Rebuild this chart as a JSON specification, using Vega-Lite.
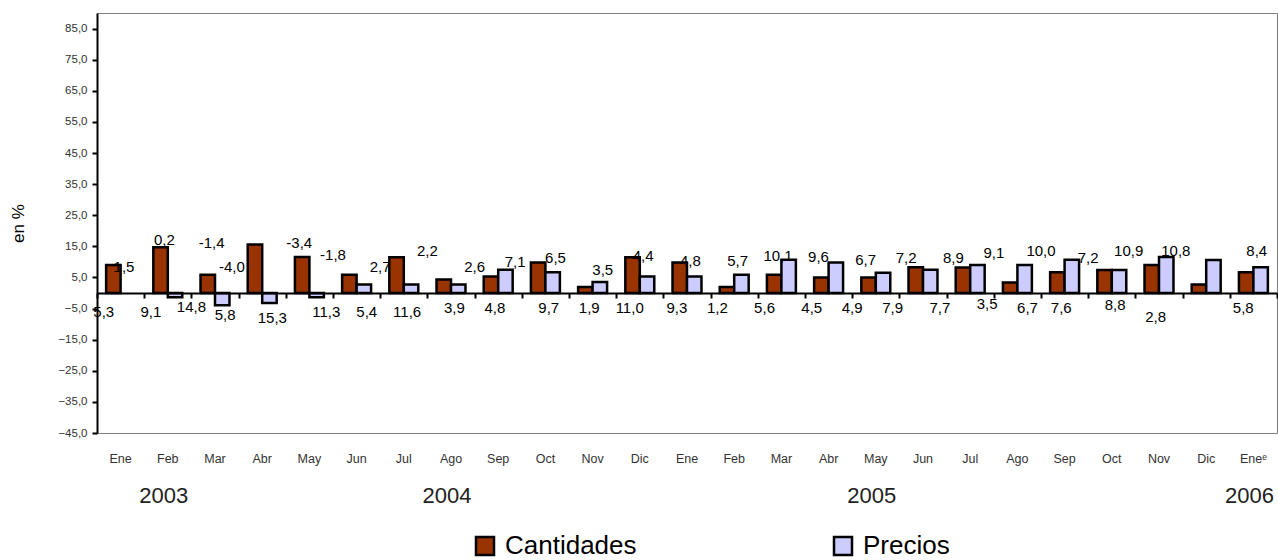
{
  "$schema": "https://vega.github.io/schema/vega-lite/v6.json",
  "autosize": {"type": "none"},
  "padding": {"left": 97, "top": 13, "right": 1, "bottom": 127},
  "width": 1180,
  "height": 420,
  "background": "white",
  "config": {
    "font": "Liberation Sans",
    "view": {"stroke": "#808080", "strokeWidth": 1},
    "axis": {"grid": false}
  },
  "datasets": {
    "barras": [
      {"m": 1, "s": "Cantidades", "v": 9.0},
      {"m": 2, "s": "Cantidades", "v": 14.7}, {"m": 2, "s": "Precios", "v": -1.4},
      {"m": 3, "s": "Cantidades", "v": 5.9}, {"m": 3, "s": "Precios", "v": -3.9},
      {"m": 4, "s": "Cantidades", "v": 15.6}, {"m": 4, "s": "Precios", "v": -3.2},
      {"m": 5, "s": "Cantidades", "v": 11.6}, {"m": 5, "s": "Precios", "v": -1.4},
      {"m": 6, "s": "Cantidades", "v": 5.9}, {"m": 6, "s": "Precios", "v": 2.7},
      {"m": 7, "s": "Cantidades", "v": 11.5}, {"m": 7, "s": "Precios", "v": 2.7},
      {"m": 8, "s": "Cantidades", "v": 4.3}, {"m": 8, "s": "Precios", "v": 2.7},
      {"m": 9, "s": "Cantidades", "v": 5.3}, {"m": 9, "s": "Precios", "v": 7.5},
      {"m": 10, "s": "Cantidades", "v": 9.8}, {"m": 10, "s": "Precios", "v": 6.7},
      {"m": 11, "s": "Cantidades", "v": 1.9}, {"m": 11, "s": "Precios", "v": 3.5},
      {"m": 12, "s": "Cantidades", "v": 11.5}, {"m": 12, "s": "Precios", "v": 5.3},
      {"m": 13, "s": "Cantidades", "v": 9.8}, {"m": 13, "s": "Precios", "v": 5.3},
      {"m": 14, "s": "Cantidades", "v": 1.9}, {"m": 14, "s": "Precios", "v": 5.9},
      {"m": 15, "s": "Cantidades", "v": 5.9}, {"m": 15, "s": "Precios", "v": 10.7},
      {"m": 16, "s": "Cantidades", "v": 5.0}, {"m": 16, "s": "Precios", "v": 9.8},
      {"m": 17, "s": "Cantidades", "v": 5.0}, {"m": 17, "s": "Precios", "v": 6.5},
      {"m": 18, "s": "Cantidades", "v": 8.3}, {"m": 18, "s": "Precios", "v": 7.5},
      {"m": 19, "s": "Cantidades", "v": 8.2}, {"m": 19, "s": "Precios", "v": 9.0},
      {"m": 20, "s": "Cantidades", "v": 3.4}, {"m": 20, "s": "Precios", "v": 9.0},
      {"m": 21, "s": "Cantidades", "v": 6.7}, {"m": 21, "s": "Precios", "v": 10.7},
      {"m": 22, "s": "Cantidades", "v": 7.4}, {"m": 22, "s": "Precios", "v": 7.4},
      {"m": 23, "s": "Cantidades", "v": 9.0}, {"m": 23, "s": "Precios", "v": 11.6},
      {"m": 24, "s": "Cantidades", "v": 2.7}, {"m": 24, "s": "Precios", "v": 10.6},
      {"m": 25, "s": "Cantidades", "v": 6.7}, {"m": 25, "s": "Precios", "v": 8.3}
    ],
    "arriba": [
      {"m": 1, "k": 4, "t": "1,5", "ly": 8.4},
      {"m": 2, "k": 3, "t": "0,2", "ly": 17.1},
      {"m": 3, "k": 3, "t": "-1,4", "ly": 16.1},
      {"m": 3, "k": 6, "t": "-4,0", "ly": 8.4},
      {"m": 5, "k": 2, "t": "-3,4", "ly": 16.1},
      {"m": 6, "k": 0, "t": "-1,8", "ly": 12.3},
      {"m": 6, "k": 7, "t": "2,7", "ly": 8.4},
      {"m": 8, "k": 0, "t": "2,2", "ly": 13.6},
      {"m": 8, "k": 7, "t": "2,6", "ly": 8.4},
      {"m": 9, "k": 6, "t": "7,1", "ly": 10.0},
      {"m": 10, "k": 5, "t": "6,5", "ly": 11.3},
      {"m": 11, "k": 5, "t": "3,5", "ly": 7.5},
      {"m": 12, "k": 4, "t": "4,4", "ly": 12.0},
      {"m": 13, "k": 4, "t": "4,8", "ly": 10.4},
      {"m": 14, "k": 4, "t": "5,7", "ly": 10.4},
      {"m": 15, "k": 3, "t": "10,1", "ly": 12.0},
      {"m": 16, "k": 2, "t": "9,6", "ly": 11.6},
      {"m": 17, "k": 2, "t": "6,7", "ly": 10.7},
      {"m": 18, "k": 1, "t": "7,2", "ly": 11.3},
      {"m": 19, "k": 1, "t": "8,9", "ly": 11.3},
      {"m": 20, "k": 0, "t": "9,1", "ly": 12.9},
      {"m": 20, "k": 7, "t": "10,0", "ly": 13.6},
      {"m": 21, "k": 7, "t": "7,2", "ly": 11.3},
      {"m": 22, "k": 6, "t": "10,9", "ly": 13.6},
      {"m": 23, "k": 6, "t": "10,8", "ly": 13.6},
      {"m": 25, "k": 4, "t": "8,4", "ly": 13.6}
    ],
    "abajo": [
      {"m": 1, "k": 1, "t": "5,3", "ly": -6.0},
      {"m": 2, "k": 1, "t": "9,1", "ly": -6.1},
      {"m": 2, "k": 7, "t": "14,8", "ly": -4.4},
      {"m": 3, "k": 5, "t": "5,8", "ly": -7.0},
      {"m": 4, "k": 5, "t": "15,3", "ly": -8.0},
      {"m": 5, "k": 6, "t": "11,3", "ly": -6.1},
      {"m": 6, "k": 5, "t": "5,4", "ly": -6.1},
      {"m": 7, "k": 4, "t": "11,6", "ly": -6.1},
      {"m": 8, "k": 4, "t": "3,9", "ly": -4.8},
      {"m": 9, "k": 3, "t": "4,8", "ly": -4.8},
      {"m": 10, "k": 4, "t": "9,7", "ly": -4.8},
      {"m": 11, "k": 3, "t": "1,9", "ly": -4.8},
      {"m": 12, "k": 2, "t": "11,0", "ly": -4.8},
      {"m": 13, "k": 2, "t": "9,3", "ly": -4.8},
      {"m": 14, "k": 1, "t": "1,2", "ly": -4.8},
      {"m": 15, "k": 1, "t": "5,6", "ly": -4.8},
      {"m": 16, "k": 1, "t": "4,5", "ly": -4.8},
      {"m": 17, "k": 0, "t": "4,9", "ly": -4.8},
      {"m": 17, "k": 6, "t": "7,9", "ly": -4.8},
      {"m": 18, "k": 6, "t": "7,7", "ly": -4.8},
      {"m": 19, "k": 6, "t": "3,5", "ly": -3.5},
      {"m": 20, "k": 5, "t": "6,7", "ly": -4.8},
      {"m": 21, "k": 3, "t": "7,6", "ly": -4.8},
      {"m": 22, "k": 4, "t": "8,8", "ly": -3.8},
      {"m": 23, "k": 3, "t": "2,8", "ly": -7.7},
      {"m": 25, "k": 2, "t": "5,8", "ly": -4.8}
    ]
  },
  "resolve": {
    "scale": {"xOffset": "independent"},
    "axis": {"x": "independent", "y": "independent"}
  },
  "layer": [
    {
      "data": {"name": "barras"},
      "mark": {"type": "bar", "stroke": "black", "strokeWidth": 2.5},
      "encoding": {
        "x": {
          "field": "m",
          "type": "ordinal",
          "scale": {"domain": [1,2,3,4,5,6,7,8,9,10,11,12,13,14,15,16,17,18,19,20,21,22,23,24,25], "paddingInner": 0, "paddingOuter": 0},
          "axis": {
            "orient": "bottom",
            "offset": -140,
            "labels": false,
            "title": null,
            "domainColor": "black",
            "domainWidth": 2,
            "tickColor": "black",
            "tickWidth": 2,
            "tickSize": 5,
            "tickBand": "extent",
            "zindex": 1
          }
        },
        "xOffset": {
          "field": "s",
          "type": "nominal",
          "scale": {"domain": ["Cantidades", "Precios"], "paddingInner": 0, "paddingOuter": 0.63}
        },
        "y": {
          "field": "v",
          "type": "quantitative",
          "scale": {"domain": [-45, 90], "nice": false, "zero": false},
          "axis": {
            "values": [-45, -35, -25, -15, -5, 5, 15, 25, 35, 45, 55, 65, 75, 85],
            "labelExpr": "replace(format(datum.value, '.1f'), '.', ',')",
            "labelFontSize": 11.5,
            "labelColor": "#333333",
            "labelPadding": 5,
            "domainColor": "black",
            "domainWidth": 2,
            "tickColor": "black",
            "tickWidth": 2,
            "tickSize": 5,
            "title": "en %",
            "titleFontSize": 17,
            "titleFontWeight": "normal",
            "titleColor": "black",
            "titlePadding": 30,
            "zindex": 1
          }
        },
        "color": {
          "field": "s",
          "type": "nominal",
          "scale": {"domain": ["Cantidades", "Precios"], "range": ["#993300", "#CCCCFF"]},
          "legend": {
            "orient": "none",
            "legendX": 375,
            "legendY": 520,
            "direction": "horizontal",
            "title": null,
            "symbolType": "square",
            "symbolSize": 324,
            "symbolStrokeColor": "black",
            "symbolStrokeWidth": 2.5,
            "symbolOpacity": 1,
            "labelFontSize": 26,
            "labelColor": "black",
            "labelOffset": 7,
            "columnPadding": 192,
            "labelLimit": 300
          }
        }
      }
    },
    {
      "data": {"name": "abajo"},
      "mark": {"type": "text", "fontSize": 15, "color": "black", "baseline": "middle", "align": "center"},
      "encoding": {
        "x": {
          "field": "m",
          "type": "ordinal",
          "axis": {
            "orient": "bottom",
            "labelExpr": "['Ene','Feb','Mar','Abr','May','Jun','Jul','Ago','Sep','Oct','Nov','Dic'][(datum.value - 1) % 12] + (datum.value == 25 ? 'ᵉ' : '')",
            "labelAngle": 0,
            "labelFontSize": 12.5,
            "labelColor": "#333333",
            "labelPadding": 19,
            "labelOverlap": false,
            "ticks": false,
            "tickSize": 0,
            "domain": false,
            "title": null
          }
        },
        "xOffset": {
          "field": "k",
          "type": "ordinal",
          "scale": {"domain": [0, 1, 2, 3, 4, 5, 6, 7], "paddingInner": 0, "paddingOuter": 0}
        },
        "y": {"field": "ly", "type": "quantitative", "axis": null},
        "text": {"field": "t"}
      }
    },
    {
      "data": {"name": "arriba"},
      "mark": {"type": "text", "fontSize": 15, "color": "black", "baseline": "middle", "align": "center"},
      "encoding": {
        "x": {
          "field": "m",
          "type": "ordinal",
          "axis": {
            "orient": "bottom",
            "values": [2, 8, 17, 25],
            "labelExpr": "datum.value == 2 ? '2003' : datum.value == 8 ? '2004' : datum.value == 17 ? '2005' : '2006'",
            "labelAngle": 0,
            "labelFontSize": 22,
            "labelColor": "#222222",
            "labelPadding": 52,
            "labelOffset": -4,
            "labelOverlap": false,
            "labelBound": false,
            "ticks": false,
            "tickSize": 0,
            "domain": false,
            "title": null
          }
        },
        "xOffset": {
          "field": "k",
          "type": "ordinal",
          "scale": {"domain": [0, 1, 2, 3, 4, 5, 6, 7], "paddingInner": 0, "paddingOuter": 0}
        },
        "y": {"field": "ly", "type": "quantitative", "axis": null},
        "text": {"field": "t"}
      }
    }
  ]
}
